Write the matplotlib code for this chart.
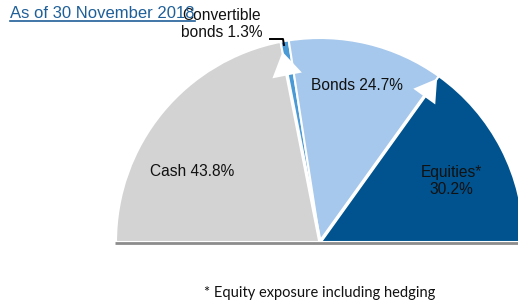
import numpy as np
import matplotlib
matplotlib.use("Agg")
import matplotlib.pyplot as plt
from matplotlib.patches import Wedge, FancyArrow

# data
categories = ["Cash", "Convertible bonds", "Bonds", "Equities"]
shares = [43.8, 1.3, 24.7, 30.2]
labels = ["Cash 43.8%", "Convertible\nbonds 1.3%", "Bonds 24.7%", "Equities*\n30.2%"]
colors = ["#d3d3d3", "#4a9ad6", "#a6c8ec", "#00538f"]

W, H = 518, 306
fig = plt.figure(figsize=(W / 100, H / 100), dpi=100)
ax = fig.add_axes([0, 0, 1, 1])
ax.set_xlim(0, W)
ax.set_ylim(0, H)
ax.axis("off")

# half pie, left to right
cx, cy, R = 320, H - 242, 204
total = sum(shares)
bounds = 180 - np.cumsum([0] + shares) / total * 180
for i, c in enumerate(colors):
    ax.add_patch(Wedge((cx, cy), R, bounds[i + 1], bounds[i], facecolor=c,
                       edgecolor="white", linewidth=1.5, zorder=1))

# white arrows on slice borders
for ang, frac, hw, hl in [(bounds[1], 0.95, 30, 24), (bounds[3], 0.985, 27, 22)]:
    t = np.deg2rad(ang)
    ax.add_patch(FancyArrow(cx, cy, frac * R * np.cos(t), frac * R * np.sin(t),
                            width=3.5, head_width=hw, head_length=hl,
                            length_includes_head=True, color="white",
                            linewidth=0, zorder=3))

# baseline
ax.plot([115, W], [cy - 1, cy - 1], color="#8c8c8c", lw=2, zorder=4,
        solid_capstyle="butt")

lab_font = dict(family="Liberation Sans", fontsize=11.2, color="#111111")
ax.text(192, H - 172, labels[0], ha="center", va="center", **lab_font)
ax.text(222, H - 24, labels[1], ha="center", va="center", linespacing=1.15, **lab_font)
ax.text(357, H - 85, labels[2], ha="center", va="center", **lab_font)
ax.text(451, H - 181, labels[3], ha="center", va="center", linespacing=1.15, **lab_font)

# connector for the convertible label
ax.plot([270, 283, 284], [H - 39, H - 39, H - 45], color="black", lw=1.4, zorder=5)

# title with underline
ax.text(10, H - 13, "As of 30 November 2018", ha="left", va="center",
        family="Liberation Sans", fontsize=12, color="#1f5f98")
ax.plot([10, 195], [H - 21, H - 21], color="#1f5f98", lw=1.2)

ax.text(320, H - 293, "* Equity exposure including hedging", ha="center",
        va="center", family="Lato", fontsize=10.5, color="#111111")

fig.savefig("out.png", dpi=100)
